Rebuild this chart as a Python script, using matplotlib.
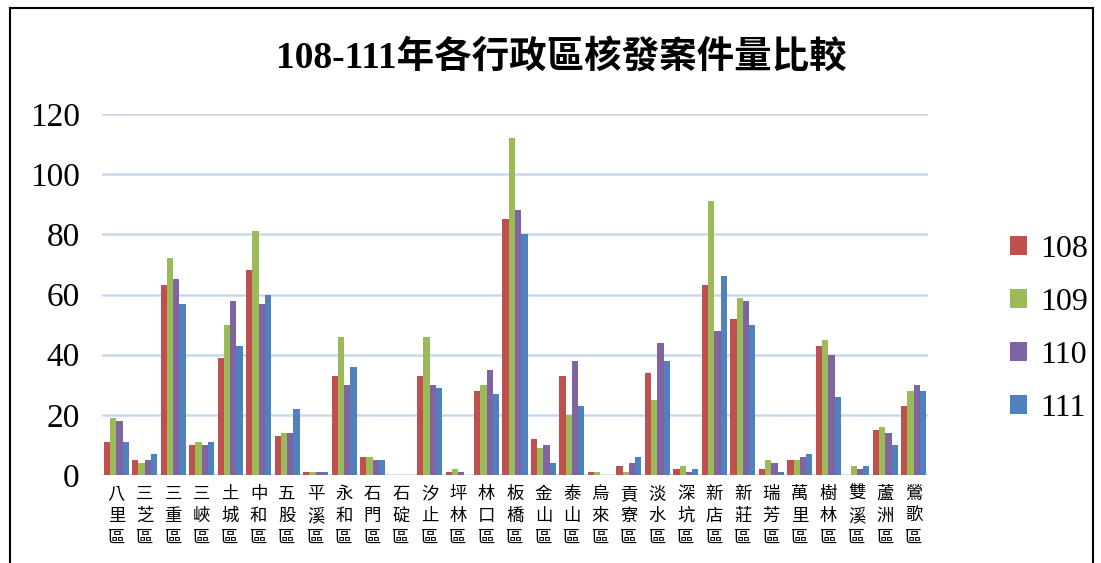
import numpy as np
import matplotlib.pyplot as plt
from matplotlib.lines import Line2D

plt.rcParams['font.family'] = ['Liberation Serif', 'Noto Sans CJK TC', 'DejaVu Sans']

districts = ["八里區", "三芝區", "三重區", "三峽區", "土城區", "中和區", "五股區", "平溪區",
             "永和區", "石門區", "石碇區", "汐止區", "坪林區", "林口區", "板橋區", "金山區",
             "泰山區", "烏來區", "貢寮區", "淡水區", "深坑區", "新店區", "新莊區", "瑞芳區",
             "萬里區", "樹林區", "雙溪區", "蘆洲區", "鶯歌區"]
years = ["108", "109", "110", "111"]
v108 = [11, 5, 63, 10, 39, 68, 13, 1, 33, 6, 0, 33, 1, 28, 85, 12, 33, 1, 3, 34, 2, 63, 52, 2, 5, 43, 0, 15, 23]
v109 = [19, 4, 72, 11, 50, 81, 14, 1, 46, 6, 0, 46, 2, 30, 112, 9, 20, 1, 1, 25, 3, 91, 59, 5, 5, 45, 3, 16, 28]
v110 = [18, 5, 65, 10, 58, 57, 14, 1, 30, 5, 0, 30, 1, 35, 88, 10, 38, 0, 4, 44, 1, 48, 58, 4, 6, 40, 2, 14, 30]
v111 = [11, 7, 57, 11, 43, 60, 22, 1, 36, 5, 0, 29, 0, 27, 80, 4, 23, 0, 6, 38, 2, 66, 50, 1, 7, 26, 3, 10, 28]
series = [v108, v109, v110, v111]
colors = ["#C0504D", "#9BBB59", "#8064A2", "#4F81BD"]


def main():
    fig = plt.figure(figsize=(11.01, 5.63), dpi=100)
    ax = fig.add_axes([102 / 1101, 1 - 475 / 563, 826 / 1101, 361 / 563])

    x = np.arange(len(districts))
    w = 0.22
    for i, (vals, c, lab) in enumerate(zip(series, colors, years)):
        ax.bar(x + (i - 1.5) * w, vals, width=w, color=c, label=lab, zorder=3)

    ax.set_xlim(-0.5, len(districts) - 0.5)
    ax.set_ylim(0, 120)
    ax.set_yticks(range(0, 121, 20))
    ax.grid(axis="y", color="#C6D9F1", linewidth=1.8, zorder=0)
    for s in ax.spines.values():
        s.set_visible(False)
    ax.tick_params(axis="both", length=0)
    ax.tick_params(axis="y", labelsize=24, pad=16)
    ax.set_xticks(x)
    ax.set_xticklabels(["\n".join(d) for d in districts], fontsize=12.5,
                       family=["Noto Sans CJK TC"], linespacing=1.3)
    ax.tick_params(axis="x", pad=7)

    fig.text(0.51, 0.897, "108-111年各行政區核發案件量比較", ha="center", va="center",
             fontsize=27, fontweight="bold")

    ax.legend(loc="center left", bbox_to_anchor=(1.064, 0.405), frameon=False,
              fontsize=23, handlelength=0.55, handleheight=0.55, labelspacing=0.75,
              handletextpad=0.4)

    # chart frame
    fig.add_artist(Line2D([10 / 1101, 10 / 1101], [0, 1 - 8 / 563], color="black", lw=1.5))
    fig.add_artist(Line2D([10 / 1101, 1093 / 1101], [1 - 8 / 563, 1 - 8 / 563], color="black", lw=1.5))
    fig.add_artist(Line2D([1093 / 1101, 1093 / 1101], [0, 1 - 8 / 563], color="black", lw=1.5))

    fig.savefig("out.png", dpi=100)


if __name__ == "__main__":
    main()
